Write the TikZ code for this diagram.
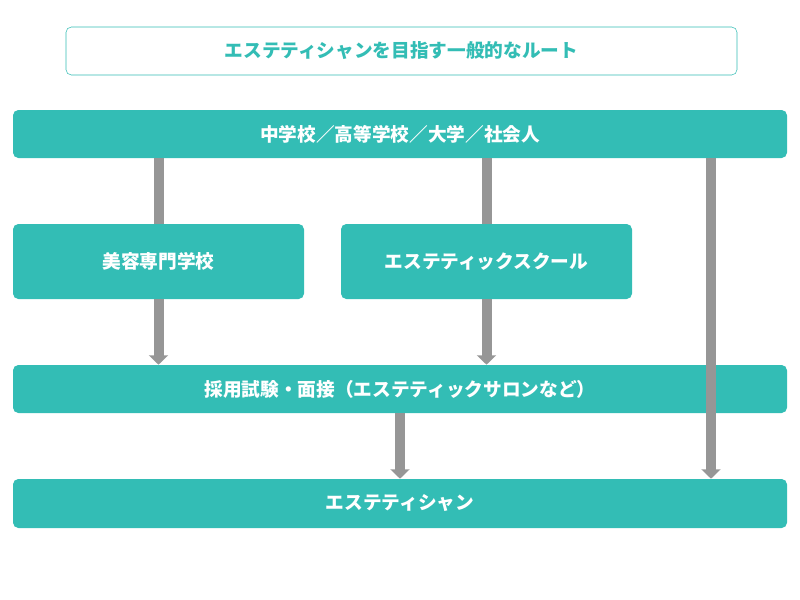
\documentclass[tikz,border=0pt]{standalone}
\usepackage{fontspec}
\setmainfont{Noto Sans CJK JP}
\usepackage{xcolor}
\usetikzlibrary{arrows.meta}
\definecolor{teal1}{RGB}{51,189,181}
\definecolor{grayarr}{RGB}{150,150,150}
\tikzset{
  bar/.style={fill=teal1,draw=none,rounded corners=4pt,text=white,font=\bfseries\fontsize{14}{16}\selectfont},
  flow/.style={draw=grayarr,line width=7.5pt},
  flowtip/.style={flow,-{Triangle[width=14pt,length=7pt]}}
}
\begin{document}
\begin{tikzpicture}[x=0.75pt,y=0.75pt,yscale=-1,xscale=1]
\useasboundingbox (0,0) rectangle (800,600);

%Title
\node (title) [draw=teal1,fill=white,rounded corners=4pt,minimum width=671*0.75pt,minimum height=48*0.75pt,text=teal1,font=\bfseries\fontsize{14}{16}\selectfont] at (401.5,51) {エステティシャンを目指す一般的なルート};

%Bars and boxes
\node (school) [bar,minimum width=774*0.75pt,minimum height=48*0.75pt] at (400,134) {中学校／高等学校／大学／社会人};
\node (beauty) [bar,minimum width=291*0.75pt,minimum height=75*0.75pt] at (158.5,261.5) {美容専門学校};
\node (esthe) [bar,minimum width=291*0.75pt,minimum height=75*0.75pt] at (486.5,261.5) {エステティックスクール};
\node (exam) [bar,minimum width=774*0.75pt,minimum height=48*0.75pt] at (400,389) {採用試験・面接（エステティックサロンなど）};
\node (job) [bar,minimum width=774*0.75pt,minimum height=49*0.75pt] at (400,503.5) {エステティシャン};

%Connectors
\draw [flow] (school.south -| beauty.north) -- (beauty.north);
\draw [flow] (school.south -| esthe.north) -- (esthe.north);
\draw [flowtip] (beauty.south) -- (exam.north -| beauty.south);
\draw [flowtip] (esthe.south) -- (exam.north -| esthe.south);
\coordinate (right) at (711,158);
\draw [flowtip] (right) -- (job.north -| right);
\draw [flowtip] (exam.south -| job.north) -- (job.north);
\end{tikzpicture}
\end{document}
